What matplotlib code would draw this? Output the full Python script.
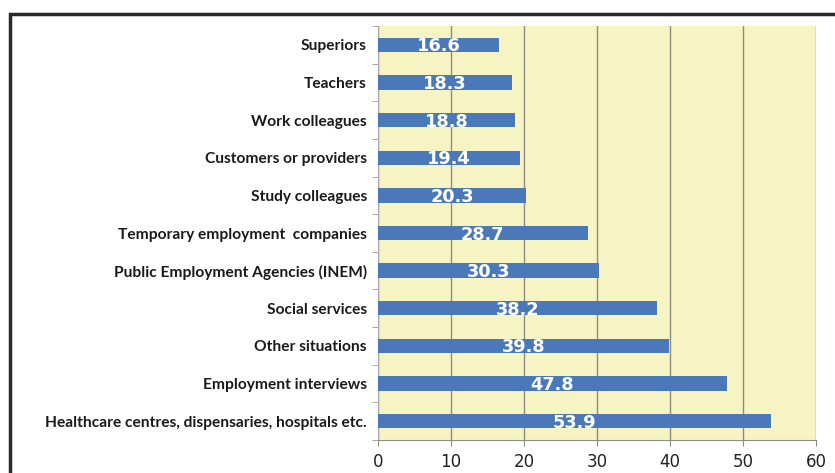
import matplotlib.pyplot as plt
from matplotlib.patches import Rectangle
from matplotlib.ticker import FixedLocator
import numpy as np

plt.rcParams['font.family'] = ['DejaVu Sans']

categories = [
    'Superiors',
    'Teachers',
    'Work colleagues',
    'Customers or providers',
    'Study colleagues',
    'Temporary employment  companies',
    'Public Employment Agencies (INEM)',
    'Social services',
    'Other situations',
    'Employment interviews',
    'Healthcare centres, dispensaries, hospitals etc.',
]
values = [16.6, 18.3, 18.8, 19.4, 20.3, 28.7, 30.3, 38.2, 39.8, 47.8, 53.9]
x_ticks = [0, 10, 20, 30, 40, 50, 60]

bar_color = '#4a78b8'
bg_color = '#f7f4c4'
grid_color = '#8c8c84'

fig = plt.figure(figsize=(8.35, 4.73), dpi=100)
ax = fig.add_axes([378 / 835, 33 / 473, 438 / 835, 414 / 473])
ax.set_facecolor(bg_color)

y = np.arange(len(categories))
ax.barh(y, values, height=0.38, color=bar_color, zorder=3)

for yi, v in zip(y, values):
    ax.text(v / 2, yi + 0.04, f'{v:.1f}', ha='center', va='center',
            color='white', fontsize=12.8, fontweight='bold', zorder=4)

ax.set_xlim(0, 60)
ax.set_ylim(len(categories) - 0.5, -0.5)

ax.set_xticks(x_ticks)
ax.set_xticklabels([str(t) for t in x_ticks], fontsize=12, color='#222222')
ax.tick_params(axis='x', length=4, color=grid_color, pad=5.5)

ax.set_yticks(y)
ax.set_yticklabels(categories, fontsize=11.2, fontweight='bold',
                   family=['Lato'], color='#1a1a1a')
ax.tick_params(axis='y', length=0, pad=8)
ax.yaxis.set_minor_locator(FixedLocator(np.arange(-0.5, len(categories), 1.0)))
ax.tick_params(axis='y', which='minor', length=4, color='#999999')

ax.grid(axis='x', color=grid_color, linewidth=1.0, zorder=1)
ax.set_axisbelow(True)
for side in ['top', 'right']:
    ax.spines[side].set_visible(False)
ax.spines['left'].set_color('#aaaaaa')
ax.spines['bottom'].set_color(grid_color)

# outer frame running off the right and bottom edges
fig.patches.append(Rectangle((10 / 835, -0.1), 1.0, (473 - 14) / 473 + 0.1,
                             transform=fig.transFigure, fill=False,
                             edgecolor='#2a2a2a', linewidth=2.5))

fig.savefig('out.png', dpi=100)
